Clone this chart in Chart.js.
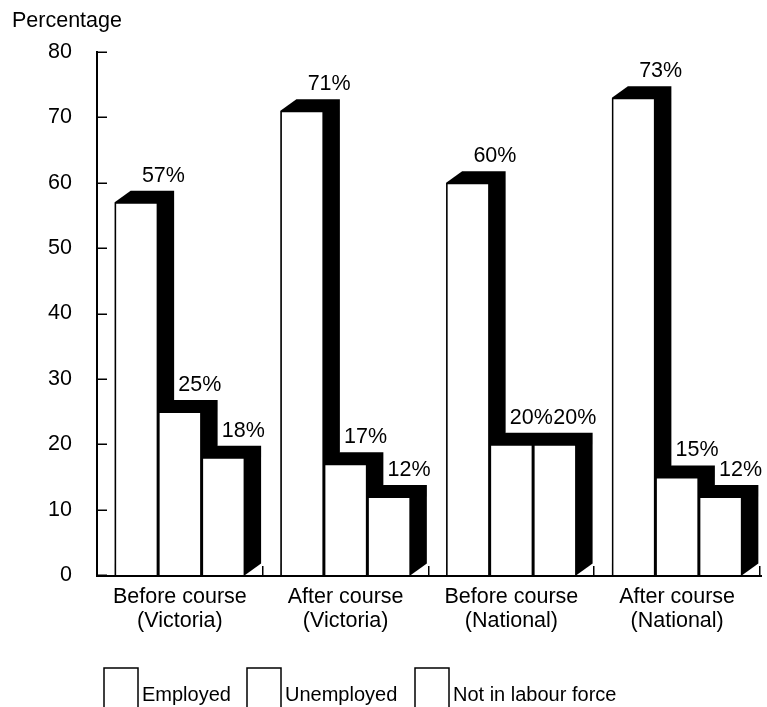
<!DOCTYPE html>
<html>
<head>
<meta charset="utf-8">
<script src="https://cdn.jsdelivr.net/npm/chart.js@4/dist/chart.umd.min.js"></script>
<style>
  html, body { margin: 0; padding: 0; background: #ffffff; }
  #wrap { width: 767px; height: 707px; }
</style>
</head>
<body>
<div id="wrap"><canvas id="chart" width="767" height="707"></canvas></div>
<script>
// Labour force status before and after the course
const categories = [
  ['Before course', '(Victoria)'],
  ['After course', '(Victoria)'],
  ['Before course', '(National)'],
  ['After course', '(National)']
];
const seriesNames = ['Employed', 'Unemployed', 'Not in labour force'];
const employed = [57, 71, 60, 73];
const unemployed = [25, 17, 20, 15];
const notInLabourForce = [18, 12, 20, 12];
const yTickValues = [0, 10, 20, 30, 40, 50, 60, 70, 80];

const FONT = '"Liberation Sans", Arial, sans-serif';
const FONT_SIZE = 21.5;
const LEGEND_FONT_SIZE = 20;
const DEPTH_X = 16;   // extrusion to the right
const DEPTH_Y = 11.5; // extrusion upwards

function drawDepth(ctx, meta) {
  ctx.save();
  ctx.fillStyle = '#000000';
  meta.data.forEach(el => {
    const p = el.getProps(['x', 'y', 'base', 'width'], true);
    const l = p.x - p.width / 2, r = p.x + p.width / 2;
    ctx.beginPath();
    ctx.moveTo(l, p.y);
    ctx.lineTo(l + DEPTH_X, p.y - DEPTH_Y);
    ctx.lineTo(r + DEPTH_X, p.y - DEPTH_Y);
    ctx.lineTo(r + DEPTH_X, p.base - DEPTH_Y);
    ctx.lineTo(r, p.base);
    ctx.lineTo(l, p.base);
    ctx.closePath();
    ctx.fill();
  });
  ctx.restore();
}

// Box-style bars: each series is drawn left to right so the next white
// front hides the black side face of the bar before it.
const boxBars = {
  id: 'boxBars',
  beforeDatasetsDraw(chart) {
    const ctx = chart.ctx;
    chart.data.datasets.forEach((ds, di) => {
      const meta = chart.getDatasetMeta(di);
      drawDepth(ctx, meta);
      meta.data.forEach(el => el.draw(ctx, chart.chartArea));
    });
    return false;
  },
  afterDraw(chart) {
    const ctx = chart.ctx;
    const area = chart.chartArea;
    const xs = chart.scales.x, ys = chart.scales.y;
    ctx.save();
    // value labels
    ctx.fillStyle = '#000000';
    ctx.font = FONT_SIZE + 'px ' + FONT;
    ctx.textAlign = 'center';
    ctx.textBaseline = 'alphabetic';
    chart.data.datasets.forEach((ds, di) => {
      const meta = chart.getDatasetMeta(di);
      meta.data.forEach((el, i) => {
        const p = el.getProps(['x', 'y'], true);
        const shift = di === 0 ? 27 : 20;
        ctx.fillText(ds.data[i] + '%', p.x + shift, p.y - DEPTH_Y - 9);
      });
    });

    // axes
    ctx.strokeStyle = '#000000';
    ctx.lineWidth = 2;
    ctx.beginPath();
    ctx.moveTo(area.left, ys.getPixelForValue(80) - 1);
    ctx.lineTo(area.left, area.bottom + 1);
    ctx.lineTo(area.right + 2, area.bottom + 1);
    ctx.stroke();
    ctx.lineWidth = 1.5;
    ctx.beginPath();
    yTickValues.forEach(v => {
      const py = Math.round(ys.getPixelForValue(v)) + 0.25;
      ctx.moveTo(area.left, py);
      ctx.lineTo(area.left + 10, py);
    });
    for (let i = 0; i < categories.length; i++) {
      const px = Math.round(xs.getPixelForValue(i + 0.5)) - 0.25;
      ctx.moveTo(px, area.bottom);
      ctx.lineTo(px, area.bottom - 9);
    }
    ctx.stroke();

    // axis caption
    ctx.textAlign = 'left';
    ctx.fillText('Percentage', 12, 27);

    // legend
    ctx.font = LEGEND_FONT_SIZE + 'px ' + FONT;
    const legendX = [104, 247, 415];
    chart.data.datasets.forEach((ds, di) => {
      const bx = legendX[di];
      ctx.fillStyle = '#ffffff';
      ctx.fillRect(bx, 668, 34, 45);
      ctx.lineWidth = 1.5;
      ctx.strokeStyle = '#000000';
      ctx.strokeRect(bx, 668, 34, 45);
      ctx.fillStyle = '#000000';
      ctx.fillText(ds.label, bx + 38, 701);
    });
    ctx.restore();
  }
};

const barStyle = {
  backgroundColor: '#ffffff',
  borderColor: '#000000',
  borderWidth: 1.5,
  barPercentage: 1,
  categoryPercentage: 0.787
};

new Chart(document.getElementById('chart'), {
  type: 'bar',
  data: {
    labels: categories,
    datasets: [
      Object.assign({ label: seriesNames[0], data: employed }, barStyle),
      Object.assign({ label: seriesNames[1], data: unemployed }, barStyle),
      Object.assign({ label: seriesNames[2], data: notInLabourForce }, barStyle)
    ]
  },
  options: {
    responsive: false,
    animation: false,
    layout: { padding: { top: 52, right: 7, bottom: 72, left: 0 } },
    plugins: {
      legend: { display: false },
      tooltip: { enabled: false },
      title: { display: false }
    },
    scales: {
      x: {
        grid: { display: false, drawTicks: false },
        border: { display: false },
        ticks: {
          color: '#000000',
          padding: 10,
          font: { family: FONT, size: FONT_SIZE, lineHeight: 1.12 },
          maxRotation: 0,
          autoSkip: false
        },
        afterFit(scale) { scale.height = 60; }
      },
      y: {
        min: 0,
        max: 80,
        grid: { display: false, drawTicks: false },
        border: { display: false },
        afterBuildTicks(scale) { scale.ticks = yTickValues.map(v => ({ value: v })); },
        ticks: {
          color: '#000000',
          padding: 25,
          font: { family: FONT, size: FONT_SIZE }
        },
        afterFit(scale) { scale.width = 97; }
      }
    }
  },
  plugins: [boxBars]
});
</script>
</body>
</html>
